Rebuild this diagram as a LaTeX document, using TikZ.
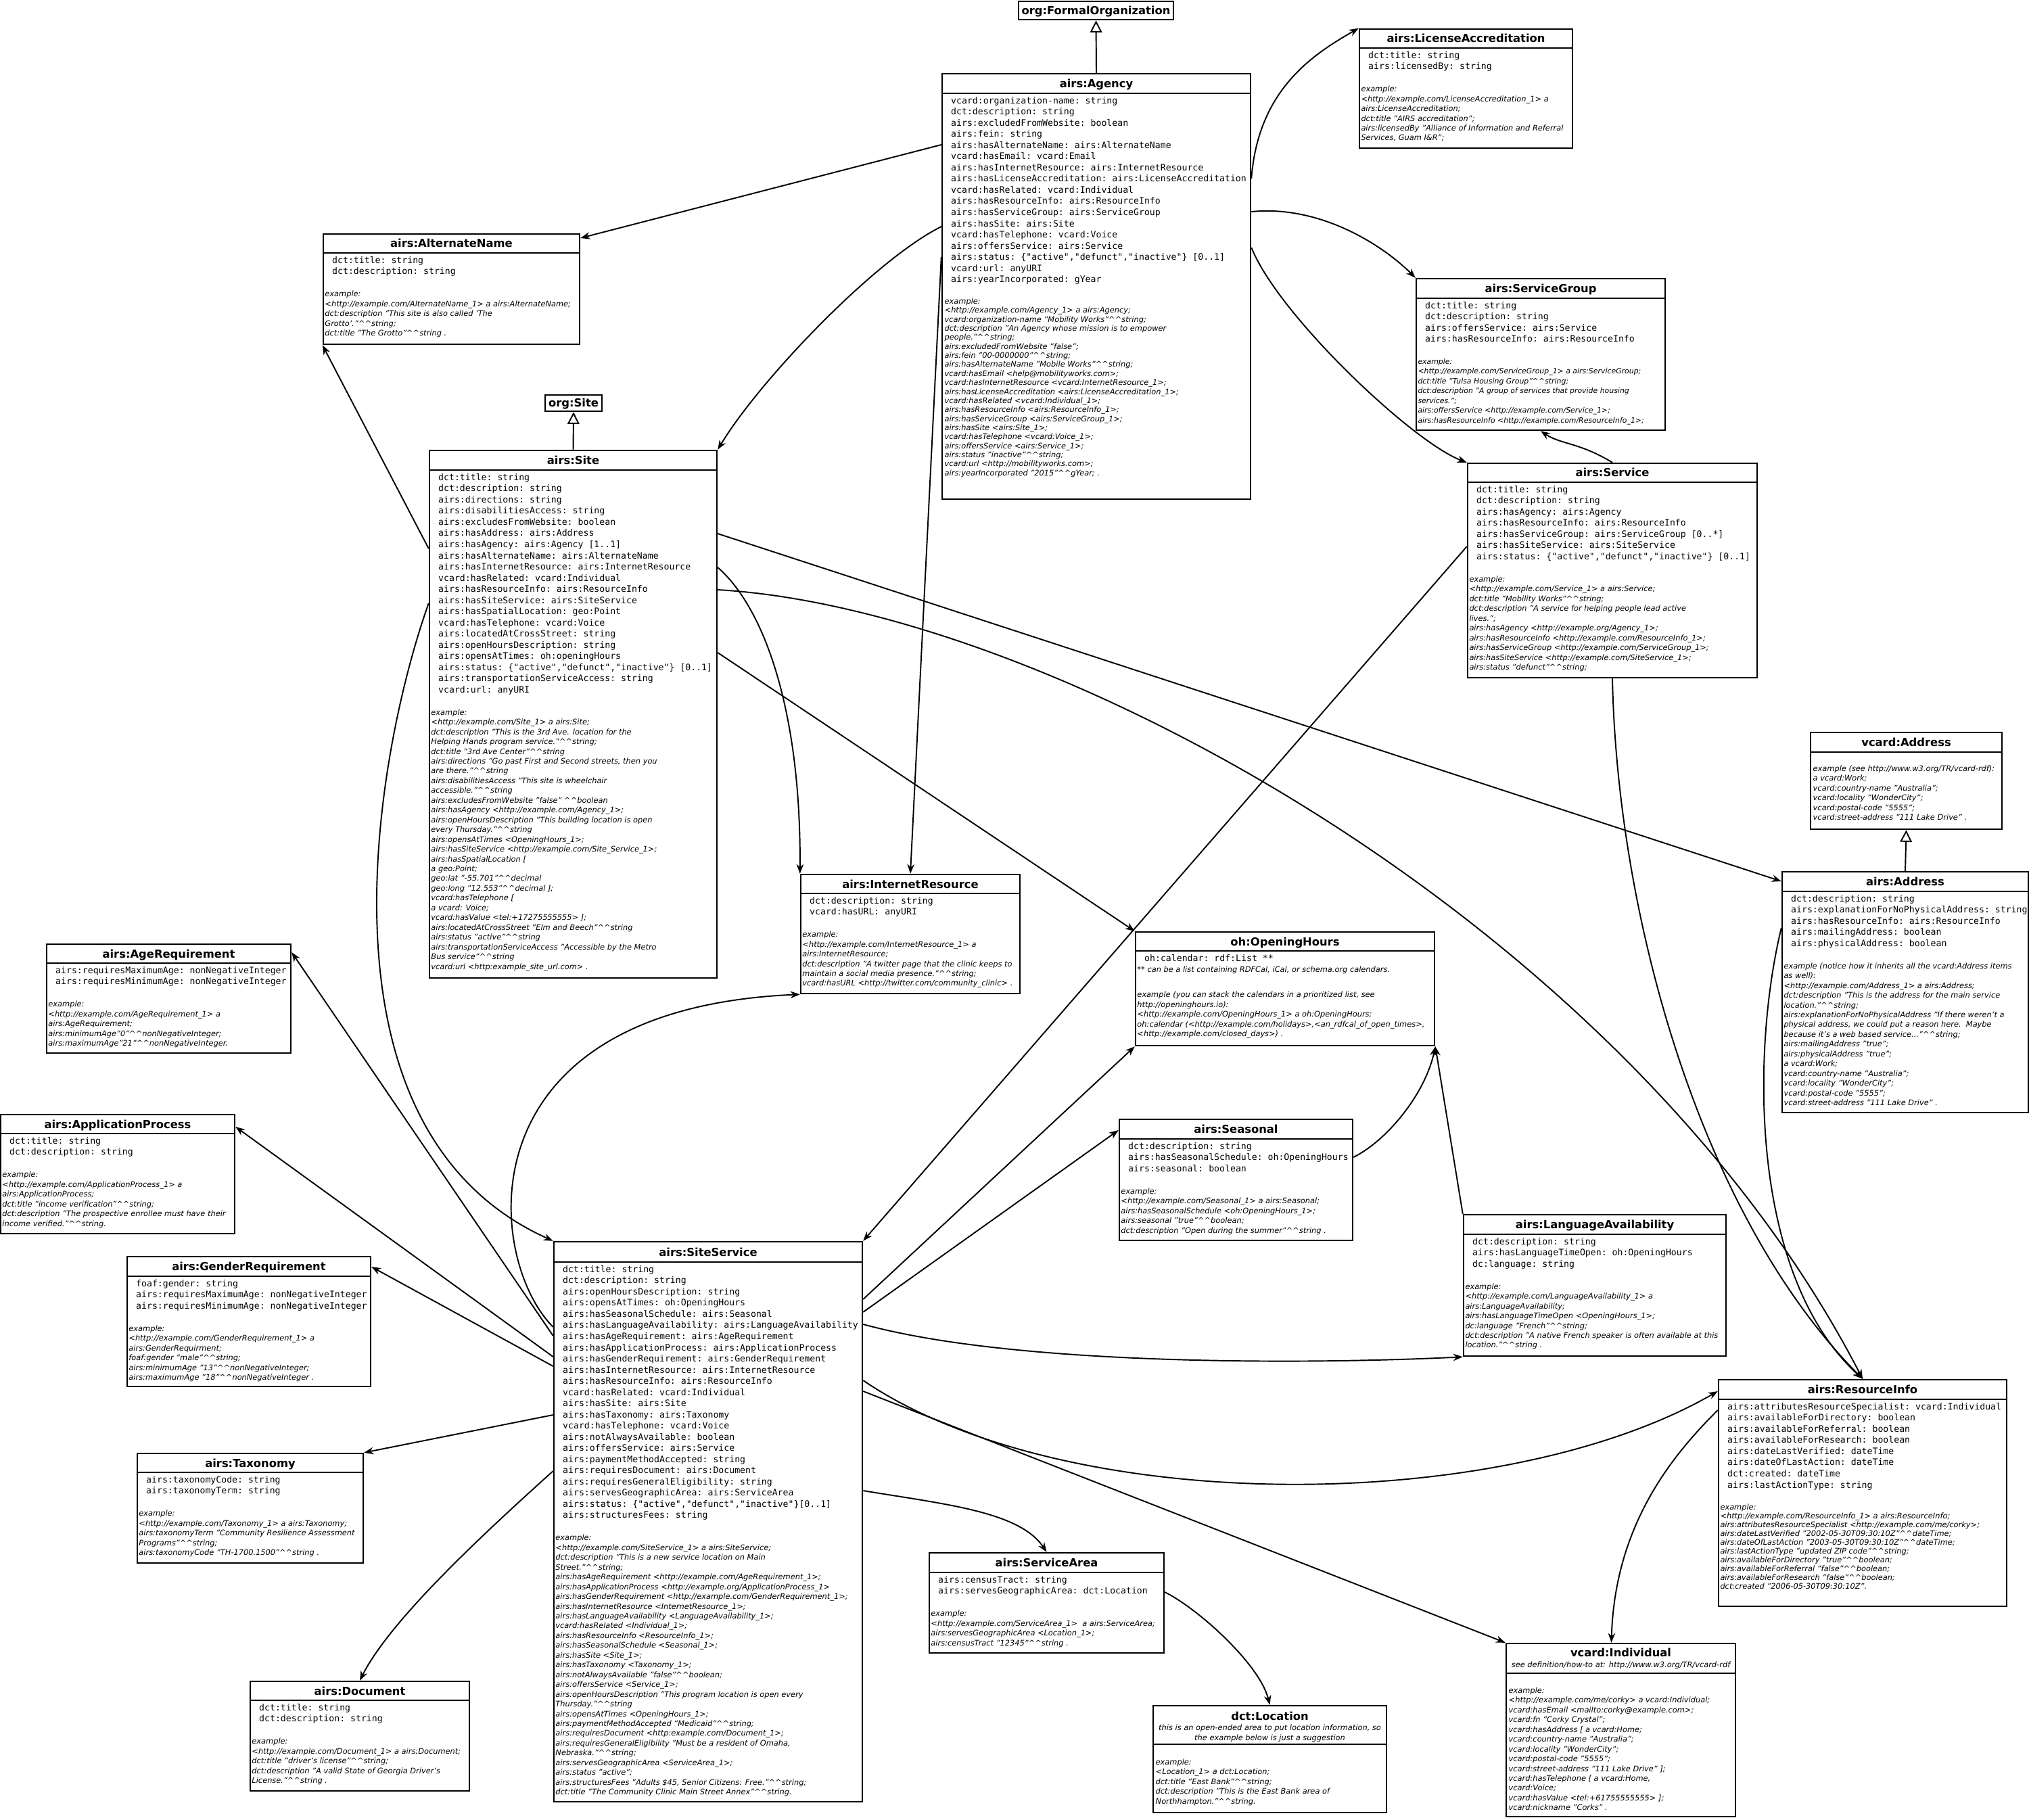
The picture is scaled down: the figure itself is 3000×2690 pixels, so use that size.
\documentclass[tikz,border=0pt]{standalone}
\usepackage{fontspec}
\setmainfont{DejaVu Sans}
\setmonofont{DejaVu Sans Mono}
\usetikzlibrary{arrows.meta, positioning, calc, fit}
\newcommand{\hh}{\textasciicircum\textasciicircum}

\begin{document}
\begin{tikzpicture}[
x=0.01cm, y=-0.01cm,
cls/.style={draw, line width=0.7pt, inner sep=0pt},
bar/.style={line width=0.7pt},
ttl/.style={inner sep=0pt, text height=3.4pt, text depth=0pt, font=\fontsize{4.65}{5.6}\selectfont\bfseries},
attr/.style={anchor=north west, inner sep=0pt, align=left, font=\fontsize{3.75}{4.7}\selectfont\ttfamily, execute at begin node={\vphantom{d}}, execute at end node={\vphantom{g}}},
ex/.style={anchor=north west, inner sep=0pt, align=left, font=\fontsize{3.24}{4.11}\selectfont\itshape},
extight/.style={anchor=north west, inner sep=0pt, align=left, font=\fontsize{3.24}{3.8}\selectfont\itshape},
note/.style={inner sep=0pt, align=center, font=\fontsize{3.24}{4.11}\selectfont\itshape},
assoc/.style={-{Stealth[length=4pt, width=3pt]}, line width=0.55pt},
isa/.style={-{Triangle[open, length=5pt, width=5pt]}, line width=0.55pt}
]
\useasboundingbox (0,0) rectangle (3000,2690);

% superclasses
\node[cls, fit={(1506,2) (1735,29)}] (formalorg) {};
\node[ttl] at (formalorg.center) {org:FormalOrganization};
\node[cls, fit={(806,584) (890,608)}] (orgsite) {};
\node[ttl] at (orgsite.center) {org:Site};

% airs:Agency
\node[cls, fit={(1393,109) (1849,738)}] (agency) {};
\draw[bar] (agency.west |- 0,138) -- (agency.east |- 0,138);
\node[ttl] at (agency.north |- 0,123.5) {airs:Agency};
\node[attr] (agency-a) at (1405.5,142.5) {vcard:organization-name: string\\
dct:description: string\\
airs:excludedFromWebsite: boolean\\
airs:fein: string\\
airs:hasAlternateName: airs:AlternateName\\
vcard:hasEmail: vcard:Email\\
airs:hasInternetResource: airs:InternetResource\\
airs:hasLicenseAccreditation: airs:LicenseAccreditation\\
vcard:hasRelated: vcard:Individual\\
airs:hasResourceInfo: airs:ResourceInfo\\
airs:hasServiceGroup: airs:ServiceGroup\\
airs:hasSite: airs:Site\\
vcard:hasTelephone: vcard:Voice\\
airs:offersService: airs:Service\\
airs:status: \{"active","defunct","inactive"\} [0..1]\\
vcard:url: anyURI\\
airs:yearIncorporated: gYear};
\node[extight] (agency-e) at (1396,440) {example:\\
<http://example.com/Agency\_1> a airs:Agency;\\
vcard:organization-name "Mobility Works"\hh string;\\
dct:description "An Agency whose mission is to empower\\
people."\hh string;\\
airs:excludedFromWebsite "false";\\
airs:fein "00-0000000"\hh string;\\
airs:hasAlternateName "Mobile Works"\hh string;\\
vcard:hasEmail <help@mobilityworks.com>;\\
vcard:hasInternetResource <vcard:InternetResource\_1>;\\
airs:hasLicenseAccreditation <airs:LicenseAccreditation\_1>;\\
vcard:hasRelated <vcard:Individual\_1>;\\
airs:hasResourceInfo <airs:ResourceInfo\_1>;\\
airs:hasServiceGroup <airs:ServiceGroup\_1>;\\
airs:hasSite <airs:Site\_1>;\\
vcard:hasTelephone <vcard:Voice\_1>;\\
airs:offersService <airs:Service\_1>;\\
airs:status "inactive"\hh string;\\
vcard:url <http://mobilityworks.com>;\\
airs:yearIncorporated "2015"\hh gYear; .};

% airs:LicenseAccreditation
\node[cls, fit={(2010,43) (2325,219)}] (licacc) {};
\draw[bar] (licacc.west |- 0,71) -- (licacc.east |- 0,71);
\node[ttl] at (licacc.north |- 0,57) {airs:LicenseAccreditation};
\node[attr] (licacc-a) at (2022.5,75.5) {dct:title: string\\
airs:licensedBy: string};
\node[ex] (licacc-e) at ($(licacc-a.south -| licacc.west)+(3,20)$) {example:\\
<http://example.com/LicenseAccreditation\_1> a\\
airs:LicenseAccreditation;\\
dct:title "AIRS accreditation";\\
airs:licensedBy "Alliance of Information and Referral\\
Services, Guam I\&R";};

% airs:AlternateName
\node[cls, fit={(478,346) (857,509)}] (altname) {};
\draw[bar] (altname.west |- 0,374) -- (altname.east |- 0,374);
\node[ttl] at (altname.north |- 0,360) {airs:AlternateName};
\node[attr] (altname-a) at (490.5,378.5) {dct:title: string\\
dct:description: string};
\node[ex] (altname-e) at ($(altname-a.south -| altname.west)+(3,20)$) {example:\\
<http://example.com/AlternateName\_1> a airs:AlternateName;\\
dct:description "This site is also called 'The\\
Grotto'."\hh string;\\
dct:title "The Grotto"\hh string .};

% airs:ServiceGroup
\node[cls, fit={(2094,412) (2462,636)}] (svcgroup) {};
\draw[bar] (svcgroup.west |- 0,441) -- (svcgroup.east |- 0,441);
\node[ttl] at (svcgroup.north |- 0,426.5) {airs:ServiceGroup};
\node[attr] (svcgroup-a) at (2106.5,445.5) {dct:title: string\\
dct:description: string\\
airs:offersService: airs:Service\\
airs:hasResourceInfo: airs:ResourceInfo};
\node[ex, font=\fontsize{3.1}{4.11}\selectfont\itshape] (svcgroup-e) at ($(svcgroup-a.south -| svcgroup.west)+(3,20)$) {example:\\
<http://example.com/ServiceGroup\_1> a airs:ServiceGroup;\\
dct:title "Tulsa Housing Group"\hh string;\\
dct:description "A group of services that provide housing\\
services.";\\
airs:offersService <http://example.com/Service\_1>;\\
airs:hasResourceInfo <http://example.com/ResourceInfo\_1>;};

% airs:Site
\node[cls, fit={(635,666) (1060,1446)}] (site) {};
\draw[bar] (site.west |- 0,695) -- (site.east |- 0,695);
\node[ttl] at (site.north |- 0,680.5) {airs:Site};
\node[attr] (site-a) at (647.5,699.5) {dct:title: string\\
dct:description: string\\
airs:directions: string\\
airs:disabilitiesAccess: string\\
airs:excludesFromWebsite: boolean\\
airs:hasAddress: airs:Address\\
airs:hasAgency: airs:Agency [1..1]\\
airs:hasAlternateName: airs:AlternateName\\
airs:hasInternetResource: airs:InternetResource\\
vcard:hasRelated: vcard:Individual\\
airs:hasResourceInfo: airs:ResourceInfo\\
airs:hasSiteService: airs:SiteService\\
airs:hasSpatialLocation: geo:Point\\
vcard:hasTelephone: vcard:Voice\\
airs:locatedAtCrossStreet: string\\
airs:openHoursDescription: string\\
airs:opensAtTimes: oh:openingHours\\
airs:status: \{"active","defunct","inactive"\} [0..1]\\
airs:transportationServiceAccess: string\\
vcard:url: anyURI};
\node[ex] (site-e) at ($(site-a.south -| site.west)+(3,20)$) {example:\\
<http://example.com/Site\_1> a airs:Site;\\
dct:description "This is the 3rd Ave. location for the\\
Helping Hands program service."\hh string;\\
dct:title "3rd Ave Center"\hh string\\
airs:directions "Go past First and Second streets, then you\\
are there."\hh string\\
airs:disabilitiesAccess "This site is wheelchair\\
accessible."\hh string\\
airs:excludesFromWebsite "false" \hh boolean\\
airs:hasAgency <http://example.com/Agency\_1>;\\
airs:openHoursDescription "This building location is open\\
every Thursday."\hh string\\
airs:opensAtTimes <OpeningHours\_1>;\\
airs:hasSiteService <http://example.com/Site\_Service\_1>;\\
airs:hasSpatialLocation [\\
a geo:Point;\\
geo:lat "-55.701"\hh decimal\\
geo:long "12.553"\hh decimal ];\\
vcard:hasTelephone [\\
a vcard: Voice;\\
vcard:hasValue <tel:+17275555555> ];\\
airs:locatedAtCrossStreet "Elm and Beech"\hh string\\
airs:status "active"\hh string\\
airs:transportationServiceAccess "Accessible by the Metro\\
Bus service"\hh string\\
vcard:url <http:example\_site\_url.com> .};

% airs:Service
\node[cls, fit={(2170,685) (2598,1002)}] (service) {};
\draw[bar] (service.west |- 0,713) -- (service.east |- 0,713);
\node[ttl] at (service.north |- 0,699) {airs:Service};
\node[attr] (service-a) at (2182.5,717.5) {dct:title: string\\
dct:description: string\\
airs:hasAgency: airs:Agency\\
airs:hasResourceInfo: airs:ResourceInfo\\
airs:hasServiceGroup: airs:ServiceGroup [0..*]\\
airs:hasSiteService: airs:SiteService\\
airs:status: \{"active","defunct","inactive"\} [0..1]};
\node[ex] (service-e) at ($(service-a.south -| service.west)+(3,20)$) {example:\\
<http://example.com/Service\_1> a airs:Service;\\
dct:title "Mobility Works"\hh string;\\
dct:description "A service for helping people lead active\\
lives.";\\
airs:hasAgency <http://example.org/Agency\_1>;\\
airs:hasResourceInfo <http://example.com/ResourceInfo\_1>;\\
airs:hasServiceGroup <http://example.com/ServiceGroup\_1>;\\
airs:hasSiteService <http://example.com/SiteService\_1>;\\
airs:status "defunct"\hh string;};

% vcard:Address and airs:Address
\node[cls, fit={(2677,1083) (2960,1226)}] (vaddress) {};
\draw[bar] (vaddress.west |- 0,1112) -- (vaddress.east |- 0,1112);
\node[ttl] at (vaddress.north |- 0,1097.5) {vcard:Address};
\node[ex] (vaddress-e) at (2680,1131) {example (see http://www.w3.org/TR/vcard-rdf):\\
a vcard:Work;\\
vcard:country-name "Australia";\\
vcard:locality "WonderCity";\\
vcard:postal-code "5555";\\
vcard:street-address "111 Lake Drive" .};

\node[cls, fit={(2635,1289) (2999,1645)}] (address) {};
\draw[bar] (address.west |- 0,1318) -- (address.east |- 0,1318);
\node[ttl] at (address.north |- 0,1303.5) {airs:Address};
\node[attr] (address-a) at (2647.5,1322.5) {dct:description: string\\
airs:explanationForNoPhysicalAddress: string\\
airs:hasResourceInfo: airs:ResourceInfo\\
airs:mailingAddress: boolean\\
airs:physicalAddress: boolean};
\node[ex] (address-e) at ($(address-a.south -| address.west)+(3,20)$) {example (notice how it inherits all the vcard:Address items\\
as well):\\
<http://example.com/Address\_1> a airs:Address;\\
dct:description "This is the address for the main service\\
location."\hh string;\\
airs:explanationForNoPhysicalAddress "If there weren't a\\
physical address, we could put a reason here.\ \ Maybe\\
because it's a web based service..."\hh string;\\
airs:mailingAddress "true";\\
airs:physicalAddress "true";\\
a vcard:Work;\\
vcard:country-name "Australia";\\
vcard:locality "WonderCity";\\
vcard:postal-code "5555";\\
vcard:street-address "111 Lake Drive" .};

% airs:InternetResource
\node[cls, fit={(1184,1293) (1508,1469)}] (inetres) {};
\draw[bar] (inetres.west |- 0,1321) -- (inetres.east |- 0,1321);
\node[ttl] at (inetres.north |- 0,1307) {airs:InternetResource};
\node[attr] (inetres-a) at (1196.5,1325.5) {dct:description: string\\
vcard:hasURL: anyURI};
\node[ex] (inetres-e) at ($(inetres-a.south -| inetres.west)+(3,20)$) {example:\\
<http://example.com/InternetResource\_1> a\\
airs:InternetResource;\\
dct:description "A twitter page that the clinic keeps to\\
maintain a social media presence."\hh string;\\
vcard:hasURL <http://twitter.com/community\_clinic> .};

% oh:OpeningHours
\node[cls, fit={(1679,1378) (2121,1546)}] (openhours) {};
\draw[bar] (openhours.west |- 0,1406) -- (openhours.east |- 0,1406);
\node[ttl] at (openhours.north |- 0,1392) {oh:OpeningHours};
\node[attr] (openhours-a) at (1691.5,1410.5) {oh:calendar: rdf:List **};
\node[ex] (openhours-e) at ($(openhours-a.south -| openhours.west)+(3,3)$) {** can be a list containing RDFCal, iCal, or schema.org calendars.\\[6.6pt]
example (you can stack the calendars in a prioritized list, see\\
http://openinghours.io):\\
<http://example.com/OpeningHours\_1> a oh:OpeningHours;\\
oh:calendar (<http://example.com/holidays>,<an\_rdfcal\_of\_open\_times>,\\
<http://example.com/closed\_days>) .};

% airs:AgeRequirement
\node[cls, fit={(69,1396) (430,1557)}] (agereq) {};
\draw[bar] (agereq.west |- 0,1424) -- (agereq.east |- 0,1424);
\node[ttl] at (agereq.north |- 0,1410) {airs:AgeRequirement};
\node[attr] (agereq-a) at (81.5,1428.5) {airs:requiresMaximumAge: nonNegativeInteger\\
airs:requiresMinimumAge: nonNegativeInteger};
\node[ex] (agereq-e) at ($(agereq-a.south -| agereq.west)+(3,20)$) {example:\\
<http://example.com/AgeRequirement\_1> a\\
airs:AgeRequirement;\\
airs:minimumAge"0"\hh nonNegativeInteger;\\
airs:maximumAge"21"\hh nonNegativeInteger.};

% airs:ApplicationProcess
\node[cls, fit={(1,1648) (347,1824)}] (appproc) {};
\draw[bar] (appproc.west |- 0,1676) -- (appproc.east |- 0,1676);
\node[ttl] at (appproc.north |- 0,1662) {airs:ApplicationProcess};
\node[attr] (appproc-a) at (13.5,1680.5) {dct:title: string\\
dct:description: string};
\node[ex] (appproc-e) at ($(appproc-a.south -| appproc.west)+(3,20)$) {example:\\
<http://example.com/ApplicationProcess\_1> a\\
airs:ApplicationProcess;\\
dct:title "income verification"\hh string;\\
dct:description "The prospective enrollee must have their\\
income verified."\hh string.};

% airs:Seasonal
\node[cls, fit={(1655,1655) (2000,1834)}] (seasonal) {};
\draw[bar] (seasonal.west |- 0,1684) -- (seasonal.east |- 0,1684);
\node[ttl] at (seasonal.north |- 0,1669.5) {airs:Seasonal};
\node[attr] (seasonal-a) at (1667.5,1688.5) {dct:description: string\\
airs:hasSeasonalSchedule: oh:OpeningHours\\
airs:seasonal: boolean};
\node[ex] (seasonal-e) at ($(seasonal-a.south -| seasonal.west)+(3,20)$) {example:\\
<http://example.com/Seasonal\_1> a airs:Seasonal;\\
airs:hasSeasonalSchedule <oh:OpeningHours\_1>;\\
airs:seasonal "true"\hh boolean;\\
dct:description "Open during the summer"\hh string .};

% airs:LanguageAvailability
\node[cls, fit={(2164,1796) (2552,2005)}] (langavail) {};
\draw[bar] (langavail.west |- 0,1825) -- (langavail.east |- 0,1825);
\node[ttl] at (langavail.north |- 0,1810.5) {airs:LanguageAvailability};
\node[attr] (langavail-a) at (2176.5,1829.5) {dct:description: string\\
airs:hasLanguageTimeOpen: oh:OpeningHours\\
dc:language: string};
\node[ex] (langavail-e) at ($(langavail-a.south -| langavail.west)+(3,20)$) {example:\\
<http://example.com/LanguageAvailability\_1> a\\
airs:LanguageAvailability;\\
airs:hasLanguageTimeOpen <OpeningHours\_1>;\\
dc:language "French"\hh string;\\
dct:description "A native French speaker is often available at this\\
location."\hh string .};

% airs:GenderRequirement
\node[cls, fit={(188,1858) (548,2050)}] (genderreq) {};
\draw[bar] (genderreq.west |- 0,1887) -- (genderreq.east |- 0,1887);
\node[ttl] at (genderreq.north |- 0,1872.5) {airs:GenderRequirement};
\node[attr] (genderreq-a) at (200.5,1891.5) {foaf:gender: string\\
airs:requiresMaximumAge: nonNegativeInteger\\
airs:requiresMinimumAge: nonNegativeInteger};
\node[ex] (genderreq-e) at ($(genderreq-a.south -| genderreq.west)+(3,20)$) {example:\\
<http://example.com/GenderRequirement\_1> a\\
airs:GenderRequirment;\\
foaf:gender "male"\hh string;\\
airs:minimumAge "13"\hh nonNegativeInteger;\\
airs:maximumAge "18"\hh nonNegativeInteger .};

% airs:SiteService
\node[cls, fit={(819,1836) (1275,2664)}] (siteservice) {};
\draw[bar] (siteservice.west |- 0,1866) -- (siteservice.east |- 0,1866);
\node[ttl] at (siteservice.north |- 0,1851) {airs:SiteService};
\node[attr] (siteservice-a) at (831.5,1870.5) {dct:title: string\\
dct:description: string\\
airs:openHoursDescription: string\\
airs:opensAtTimes: oh:OpeningHours\\
airs:hasSeasonalSchedule: airs:Seasonal\\
airs:hasLanguageAvailability: airs:LanguageAvailability\\
airs:hasAgeRequirement: airs:AgeRequirement\\
airs:hasApplicationProcess: airs:ApplicationProcess\\
airs:hasGenderRequirement: airs:GenderRequirement\\
airs:hasInternetResource: airs:InternetResource\\
airs:hasResourceInfo: airs:ResourceInfo\\
vcard:hasRelated: vcard:Individual\\
airs:hasSite: airs:Site\\
airs:hasTaxonomy: airs:Taxonomy\\
vcard:hasTelephone: vcard:Voice\\
airs:notAlwaysAvailable: boolean\\
airs:offersService: airs:Service\\
airs:paymentMethodAccepted: string\\
airs:requiresDocument: airs:Document\\
airs:requiresGeneralEligibility: string\\
airs:servesGeographicArea: airs:ServiceArea\\
airs:status: \{"active","defunct","inactive"\}[0..1]\\
airs:structuresFees: string};
\node[ex] (siteservice-e) at ($(siteservice-a.south -| siteservice.west)+(3,20)$) {example:\\
<http://example.com/SiteService\_1> a airs:SiteService;\\
dct:description "This is a new service location on Main\\
Street."\hh string;\\
airs:hasAgeRequirement <http://example.com/AgeRequirement\_1>;\\
airs:hasApplicationProcess <http://example.org/ApplicationProcess\_1>\\
airs:hasGenderRequirement <http://example.com/GenderRequirement\_1>;\\
airs:hasInternetResource <InternetResource\_1>;\\
airs:hasLanguageAvailability <LanguageAvailability\_1>;\\
vcard:hasRelated <Individual\_1>;\\
airs:hasResourceInfo <ResourceInfo\_1>;\\
airs:hasSeasonalSchedule <Seasonal\_1>;\\
airs:hasSite <Site\_1>;\\
airs:hasTaxonomy <Taxonomy\_1>;\\
airs:notAlwaysAvailable "false"\hh boolean;\\
airs:offersService <Service\_1>;\\
airs:openHoursDescription "This program location is open every\\
Thursday."\hh string\\
airs:opensAtTimes <OpeningHours\_1>;\\
airs:paymentMethodAccepted "Medicaid"\hh string;\\
airs:requiresDocument <http:example.com/Document\_1>;\\
airs:requiresGeneralEligibility "Must be a resident of Omaha,\\
Nebraska."\hh string;\\
airs:servesGeographicArea <ServiceArea\_1>;\\
airs:status "active";\\
airs:structuresFees "Adults \$45, Senior Citizens: Free."\hh string;\\
dct:title "The Community Clinic Main Street Annex"\hh string.};

% airs:ResourceInfo
\node[cls, fit={(2541,2040) (2967,2375)}] (resinfo) {};
\draw[bar] (resinfo.west |- 0,2069) -- (resinfo.east |- 0,2069);
\node[ttl] at (resinfo.north |- 0,2054.5) {airs:ResourceInfo};
\node[attr] (resinfo-a) at (2553.5,2073.5) {airs:attributesResourceSpecialist: vcard:Individual\\
airs:availableForDirectory: boolean\\
airs:availableForReferral: boolean\\
airs:availableForResearch: boolean\\
airs:dateLastVerified: dateTime\\
airs:dateOfLastAction: dateTime\\
dct:created: dateTime\\
airs:lastActionType: string};
\node[ex, font=\fontsize{3.24}{3.67}\selectfont\itshape] (resinfo-e) at ($(resinfo-a.south -| resinfo.west)+(3,20)$) {example:\\
<http://example.com/ResourceInfo\_1> a airs:ResourceInfo;\\
airs:attributesResourceSpecialist <http://example.com/me/corky>;\\
airs:dateLastVerified "2002-05-30T09:30:10Z"\hh dateTime;\\
airs:dateOfLastAction "2003-05-30T09:30:10Z"\hh dateTime;\\
airs:lastActionType "updated ZIP code"\hh string;\\
airs:availableForDirectory "true"\hh boolean;\\
airs:availableForReferral "false"\hh boolean;\\
airs:availableForResearch "false"\hh boolean;\\
dct:created "2006-05-30T09:30:10Z".};

% airs:Taxonomy
\node[cls, fit={(203,2149) (537,2311)}] (taxonomy) {};
\draw[bar] (taxonomy.west |- 0,2177) -- (taxonomy.east |- 0,2177);
\node[ttl] at (taxonomy.north |- 0,2163) {airs:Taxonomy};
\node[attr] (taxonomy-a) at (215.5,2181.5) {airs:taxonomyCode: string\\
airs:taxonomyTerm: string};
\node[ex] (taxonomy-e) at ($(taxonomy-a.south -| taxonomy.west)+(3,20)$) {example:\\
<http://example.com/Taxonomy\_1> a airs:Taxonomy;\\
airs:taxonomyTerm "Community Resilience Assessment\\
Programs"\hh string;\\
airs:taxonomyCode "TH-1700.1500"\hh string .};

% airs:ServiceArea
\node[cls, fit={(1374,2296) (1721,2444)}] (svcarea) {};
\draw[bar] (svcarea.west |- 0,2325) -- (svcarea.east |- 0,2325);
\node[ttl] at (svcarea.north |- 0,2310.5) {airs:ServiceArea};
\node[attr] (svcarea-a) at (1386.5,2329.5) {airs:censusTract: string\\
airs:servesGeographicArea: dct:Location};
\node[ex] (svcarea-e) at ($(svcarea-a.south -| svcarea.west)+(3,20)$) {example:\\
<http://example.com/ServiceArea\_1>\ \ a airs:ServiceArea;\\
airs:servesGeographicArea <Location\_1>;\\
airs:censusTract "12345"\hh string .};

% airs:Document
\node[cls, fit={(370,2486) (694,2648)}] (document) {};
\draw[bar] (document.west |- 0,2514) -- (document.east |- 0,2514);
\node[ttl] at (document.north |- 0,2500) {airs:Document};
\node[attr] (document-a) at (382.5,2518.5) {dct:title: string\\
dct:description: string};
\node[ex] (document-e) at ($(document-a.south -| document.west)+(3,20)$) {example:\\
<http://example.com/Document\_1> a airs:Document;\\
dct:title "driver's license"\hh string;\\
dct:description "A valid State of Georgia Driver's\\
License."\hh string .};

% dct:Location
\node[cls, fit={(1705,2522) (2050,2680)}] (location) {};
\draw[bar] (location.west |- 0,2579) -- (location.east |- 0,2579);
\node[ttl] at (location.north |- 0,2537) {dct:Location};
\node[note] at (location.north |- 0,2563) {this is an open-ended area to put location information, so\\
the example below is just a suggestion};
\node[ex] (location-e) at (1708,2600) {example:\\
<Location\_1> a dct:Location;\\
dct:title "East Bank"\hh string;\\
dct:description "This is the East Bank area of\\
Northhampton."\hh string.};

% vcard:Individual
\node[cls, fit={(2227,2430) (2566,2686)}] (individual) {};
\draw[bar] (individual.west |- 0,2474) -- (individual.east |- 0,2474);
\node[ttl] at (individual.north |- 0,2443) {vcard:Individual};
\node[note] at (individual.north |- 0,2462) {see definition/how-to at: http://www.w3.org/TR/vcard-rdf};
\node[ex] (individual-e) at (2230,2494) {example:\\
<http://example.com/me/corky> a vcard:Individual;\\
vcard:hasEmail <mailto:corky@example.com>;\\
vcard:fn "Corky Crystal";\\
vcard:hasAddress [ a vcard:Home;\\
vcard:country-name "Australia";\\
vcard:locality "WonderCity";\\
vcard:postal-code "5555";\\
vcard:street-address "111 Lake Drive" ];\\
vcard:hasTelephone [ a vcard:Home,\\
vcard:Voice;\\
vcard:hasValue <tel:+61755555555> ];\\
vcard:nickname "Corks" .};

% generalisations
\draw[isa] (agency.north) -- (formalorg.south);
\draw[isa] (site.north) -- (orgsite.south);
\draw[isa] (address.north) -- (vaddress.south);

% associations from airs:Agency
\draw[assoc] (agency.east |- 0,264) .. controls +(10,-130) and +(-70,40) .. (licacc.north west);
\draw[assoc] (agency.west |- 0,214) -- (altname.east |- 0,352);
\draw[assoc] (agency.west |- 0,335) .. controls +(-100,50) and +(60,-100) .. (site.north east);
\draw[assoc] (agency.west |- 0,380) -- (inetres.north);
\draw[assoc] (agency.east |- 0,313) .. controls +(100,-10) and +(-50,-50) .. (svcgroup.north west);
\draw[assoc] (agency.east |- 0,366) .. controls +(40,100) and +(-80,-30) .. (service.north west);

% associations from airs:Service
\draw[assoc] (service.north) .. controls +(-50,-30) and +(30,20) .. (svcgroup.south);
\draw[assoc] (service.west |- 0,808) -- (siteservice.north east);
\draw[assoc] (service.south) .. controls +(7,347) and +(-242,-244) .. (resinfo.north);

% associations from airs:Site
\draw[assoc] (site.west |- 0,811) -- (altname.south west);
\draw[assoc] (site.east |- 0,789) -- (address.west |- 0,1303);
\draw[assoc] (site.east |- 0,839) .. controls +(70,61) and +(2,-237) .. (inetres.north west);
\draw[assoc] (site.east |- 0,872) .. controls +(490,28) and +(-347,-672) .. (resinfo.north);
\draw[assoc] (site.east |- 0,965) -- (openhours.north west);
\draw[assoc] (site.west |- 0,892) .. controls +(-75,210) and +(-370,-166) .. (siteservice.north west);

% associations from airs:SiteService
\draw[assoc] (siteservice.west |- 0,1962) .. controls +(-99,-99) and +(-505,22) .. (inetres.south west);
\draw[assoc] (siteservice.west |- 0,1975) -- (agereq.east |- 0,1408);
\draw[assoc] (siteservice.west |- 0,2006) -- (appproc.east |- 0,1666);
\draw[assoc] (siteservice.west |- 0,2020) -- (genderreq.east |- 0,1873);
\draw[assoc] (siteservice.west |- 0,2092) -- (taxonomy.north east);
\draw[assoc] (siteservice.west |- 0,2175) .. controls +(-100,90) and +(45,-90) .. (document.north);
\draw[assoc] (siteservice.east |- 0,1921) -- (openhours.south west);
\draw[assoc] (siteservice.east |- 0,1940) -- (seasonal.west |- 0,1671);
\draw[assoc] (siteservice.east |- 0,1958) .. controls +(225,62) and +(-224,11) .. (langavail.south west);
\draw[assoc] (siteservice.east |- 0,2041) .. controls +(300,204) and +(-317,183) .. (resinfo.west |- 0,2057);
\draw[assoc] (siteservice.east |- 0,2057) -- (individual.north west);
\draw[assoc] (siteservice.east |- 0,2204) .. controls +(120,20) and +(-40,-60) .. (svcarea.north);

% remaining associations
\draw[assoc] (svcarea.east |- 0,2354) .. controls +(50,25) and +(-15,-60) .. (location.north);
\draw[assoc] (seasonal.east |- 0,1711) .. controls +(50,-25) and +(-15,70) .. (openhours.south east);
\draw[assoc] (langavail.north west) -- (openhours.south east);
\draw[assoc] (address.west |- 0,1372) .. controls +(-45,186) and +(-166,-151) .. (resinfo.north);
\draw[assoc] (resinfo.west |- 0,2085) .. controls +(-60,60) and +(5,-180) .. ($(individual.north)+(-14,0)$);
\end{tikzpicture}
\end{document}
